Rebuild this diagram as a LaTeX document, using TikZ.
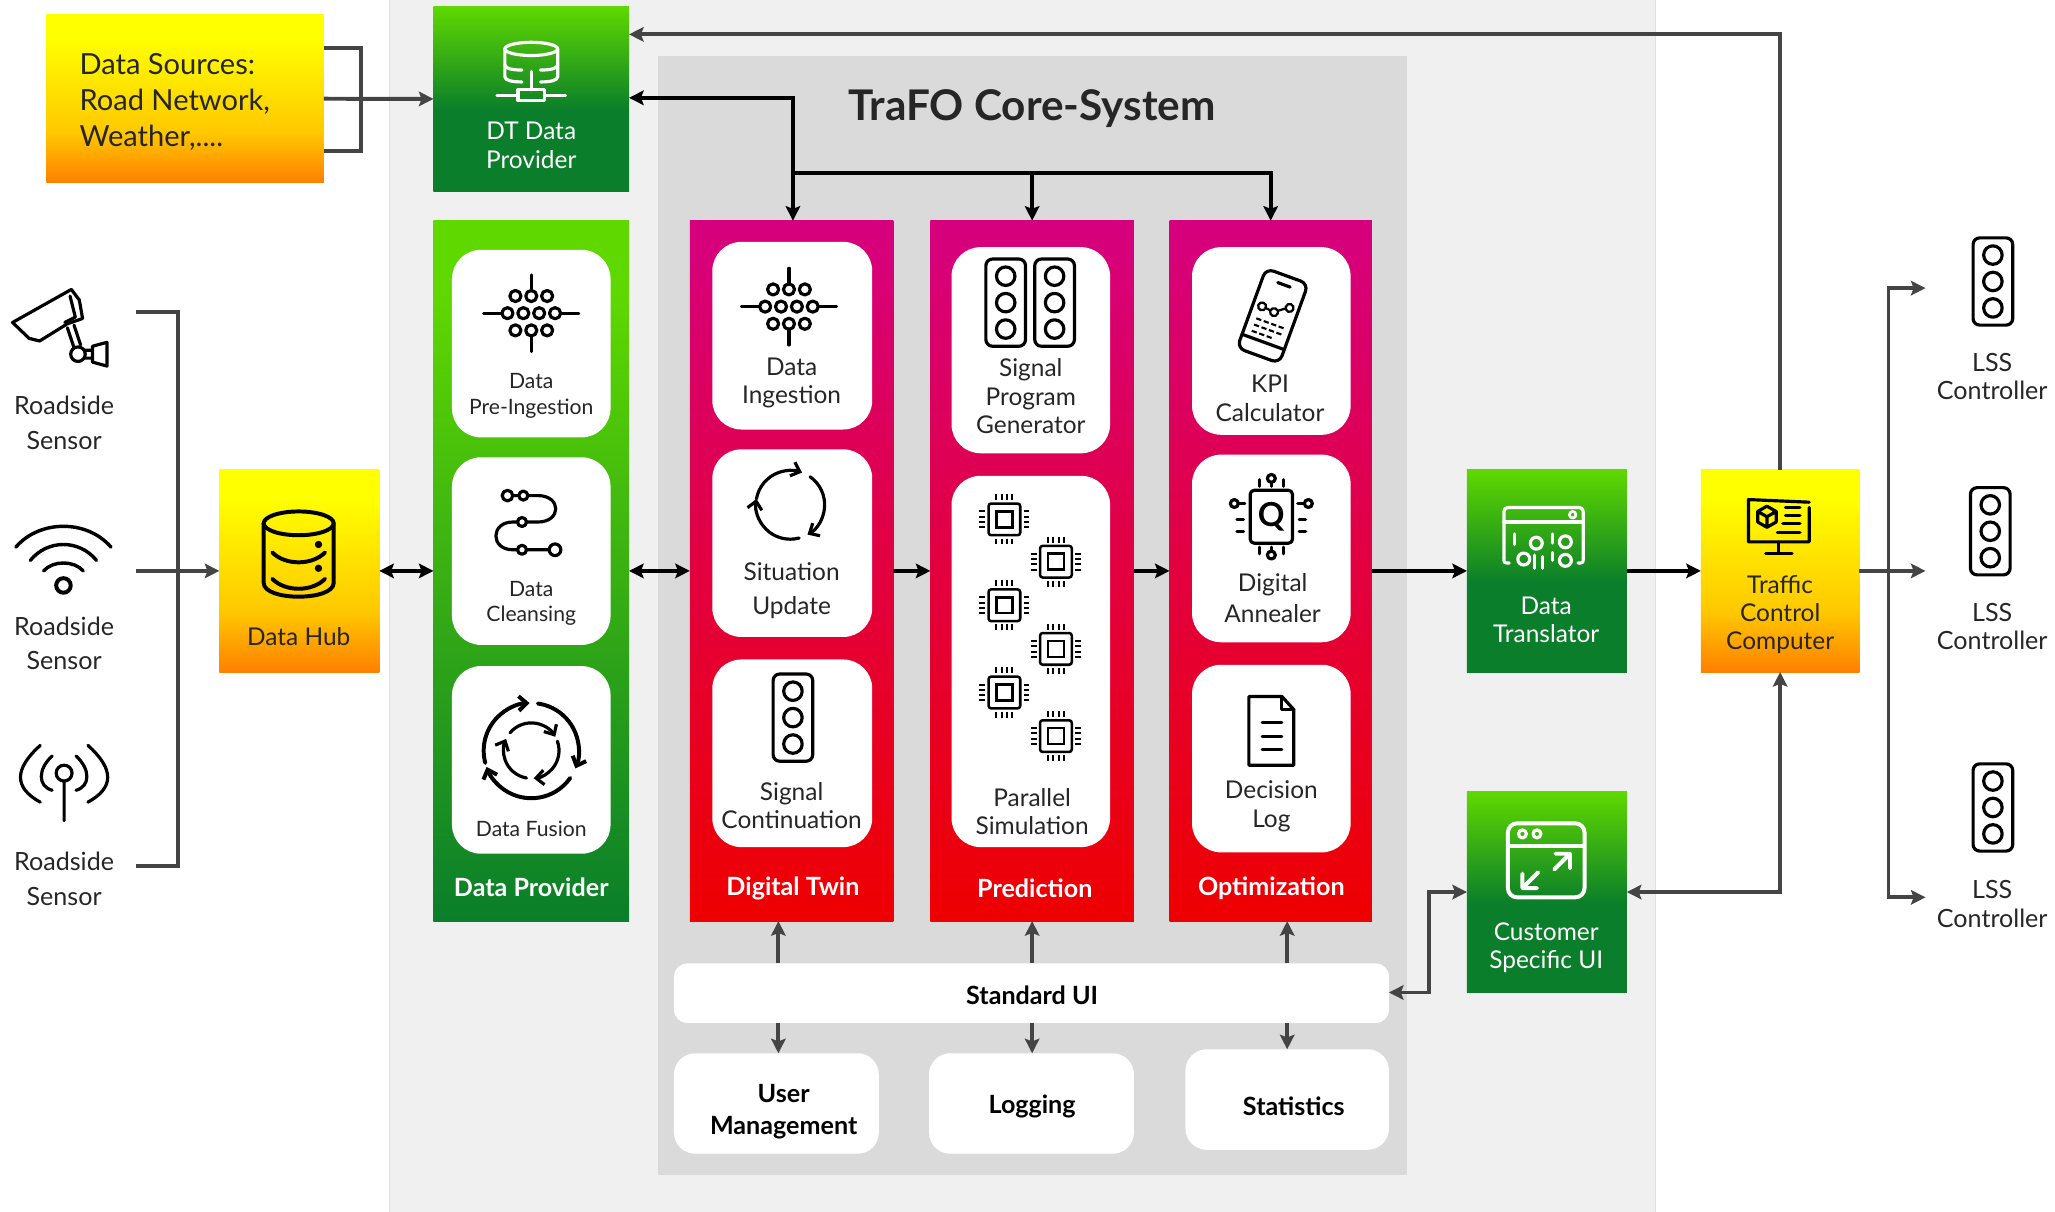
\documentclass[tikz,border=0pt]{standalone}
\usepackage{fontspec}
\setmainfont{Lato}
\usetikzlibrary{arrows,arrows.meta,calc,positioning}
\definecolor{bandgrey}{HTML}{F0F0F0}
\definecolor{coregrey}{HTML}{DADADA}
\definecolor{linkgrey}{HTML}{444444}
\definecolor{gntop}{HTML}{5FD800}
\definecolor{gnlow}{HTML}{0A7E2A}
\definecolor{pktop}{HTML}{D6007F}
\definecolor{pklow}{HTML}{EE0000}
\definecolor{yeltop}{HTML}{FFFF00}
\definecolor{yellow2}{HTML}{FFC800}
\definecolor{yellow3}{HTML}{FF8000}
\pgfdeclareverticalshading{greencol}{100bp}{color(0bp)=(gnlow); color(25bp)=(gnlow); color(70bp)=(gntop); color(100bp)=(gntop)}
\pgfdeclareverticalshading{greenbox}{100bp}{color(0bp)=(gnlow); color(47bp)=(gnlow); color(75bp)=(gntop); color(100bp)=(gntop)}
\pgfdeclareverticalshading{pinkcol}{100bp}{color(0bp)=(pklow); color(25bp)=(pklow); color(75bp)=(pktop); color(100bp)=(pktop)}
\pgfdeclareverticalshading{yellowbox}{100bp}{color(0bp)=(yellow3); color(25bp)=(yellow3); color(40bp)=(yellow2); color(68bp)=(yeltop); color(100bp)=(yeltop)}
\tikzset{
  block/.style={inner sep=0pt,outer sep=0pt,shading angle=0},
  gcol/.style={block,shading=greencol},
  gbox/.style={block,shading=greenbox},
  pcol/.style={block,shading=pinkcol},
  ybox/.style={block,shading=yellowbox},
  card/.style={fill=white,rounded corners=22pt,inner sep=0pt,outer sep=0pt},
  panel/.style={fill=white,rounded corners=10pt,inner sep=0pt,outer sep=0pt},
  txt/.style={align=center,inner sep=0pt,text=black!85,font=\fontsize{18.5}{21.5}\selectfont},
  small/.style={txt,font=\fontsize{16}{19.5}\selectfont},
  wide/.style={txt,font=\fontsize{18.5}{26}\selectfont},
  title/.style={align=center,inner sep=0pt,text=white,font=\fontsize{19}{21}\selectfont\bfseries},
  wtxt/.style={align=center,inner sep=0pt,text=white,font=\fontsize{18.5}{21.5}\selectfont},
  btxt/.style={align=center,inner sep=0pt,text=black,font=\fontsize{19}{24}\selectfont\bfseries},
  link/.style={draw=linkgrey,line width=3pt},
  flow/.style={draw=black,line width=3.2pt},
  barb/.style={>={Straight Barb[length=6pt,width=11pt]}},
  ic/.style={line width=2.4pt,line cap=round,line join=round},
  pics/lightpole/.style={code={
    \draw[ic,rounded corners=5pt] (-15,-33) rectangle (15,33);
    \foreach \ly in {-20,0,20} \draw[ic] (0,\ly) circle[radius=7pt];
  }},
  pics/grid/.style={code={
    \foreach \gx in {-12,0,12} {\draw[ic] (\gx,-13) circle[radius=4.2pt]; \draw[ic] (\gx,13) circle[radius=4.2pt];}
    \foreach \gx in {-18,-6,6,18} \draw[ic] (\gx,0) circle[radius=4.2pt];
    \draw[ic] (-36,0) -- (-22.5,0) (22.5,0) -- (36,0) (0,-29) -- (0,-17) (0,17) -- (0,29);
  }},
  pics/chip/.style={code={
    \draw[line width=1.9pt,rounded corners=2pt] (-12,-12) rectangle (12,12);
    \draw[line width=1.9pt] (-6,-6) rectangle (6,6);
    \foreach \p in {-6,-2,2,6} \draw[line width=1.5pt] (\p,-19) -- (\p,-14.5) (\p,14.5) -- (\p,19) (-19,\p) -- (-14.5,\p) (14.5,\p) -- (19,\p);
  }},
  pics/qchip/.style={code={
    \draw[ic,rounded corners=3pt] (-16,-20) rectangle (16,20);
    \node[font=\fontsize{25}{25}\selectfont\bfseries,inner sep=0pt] (qmark) at (0,0) {Q};
    \draw[ic] (0,-23) -- (0,-26) (-9,-23) -- (-9,-28) (9,-23) -- (9,-28) (0,23) -- (0,26) (-9,23) -- (-9,28) (9,23) -- (9,28);
    \draw[ic] (0,-29) circle[radius=3pt] (0,29) circle[radius=3pt] (-28,-10) circle[radius=3pt] (28,-10) circle[radius=3pt];
    \draw[ic] (-25,-10) -- (-20,-10) (20,-10) -- (25,-10) (-26,2) -- (-21,2) (21,2) -- (26,2) (-26,11) -- (-21,11) (21,11) -- (26,11);
  }},
  pics/cycle/.style={code={
    \draw[ic,barb,->] (170:26pt) arc[start angle=170,end angle=70,radius=26pt];
    \draw[ic,barb,->] (55:26pt) arc[start angle=55,end angle=-60,radius=26pt];
    \draw[ic,barb,->] (-75:26pt) arc[start angle=-75,end angle=-190,radius=26pt];
  }},
  pics/fusion/.style={code={
    \draw[line width=3pt,line cap=round,barb,->] (195:36pt) arc[start angle=195,end angle=92,radius=36pt];
    \draw[line width=3pt,line cap=round,barb,->] (82:36pt) arc[start angle=82,end angle=-22,radius=36pt];
    \draw[line width=3pt,line cap=round,barb,->] (-35:36pt) arc[start angle=-35,end angle=-160,radius=36pt];
    \draw[ic,barb,->] (140:21pt) arc[start angle=140,end angle=30,radius=21pt];
    \draw[ic,barb,->] (20:21pt) arc[start angle=20,end angle=-85,radius=21pt];
    \draw[ic,barb,->] (-100:21pt) arc[start angle=-100,end angle=-205,radius=21pt];
  }},
  pics/route/.style={code={
    \draw[ic] (-17,-23) -- (6,-23) .. controls (24,-23) and (24,-3) .. (6,-3) -- (-13,-3) .. controls (-30,-3) and (-30,18) .. (-13,18) -- (14,18);
    \fill[white] (-17,-23) circle[radius=4pt] (-5,-23) circle[radius=3.4pt] (-6,-3) circle[radius=3.4pt] (-6,18) circle[radius=3.4pt] (19,18) circle[radius=4.4pt];
    \draw[ic] (-17,-23) circle[radius=4pt] (-5,-23) circle[radius=3.4pt] (-6,-3) circle[radius=3.4pt] (-6,18) circle[radius=3.4pt] (19,18) circle[radius=4.4pt];
  }},
  pics/phone/.style={code={
    \draw[ic,rounded corners=6pt] (-17,-32) rectangle (17,32);
    \draw[ic] (-17,21) -- (17,21) (-5,-25) -- (5,-25);
    \draw[ic,line width=1.7pt] (-9,-4) -- (0,-3) -- (9,-10);
    \foreach \mx/\my in {-10/-4,0/-3,10/-10} \filldraw[fill=white,line width=1.7pt] (\mx,\my) circle[radius=3pt];
    \draw[line width=1.6pt,dash pattern=on 4pt off 2pt] (-11,6) -- (11,6) (-11,11) -- (11,11) (-11,16) -- (6,16);
  }},
  pics/docicon/.style={code={
    \draw[ic] (8,-26) -- (-17,-26) -- (-17,26) -- (17,26) -- (17,-16) -- cycle;
    \draw[ic] (8,-26) -- (8,-16) -- (17,-16);
    \draw[ic] (-7,-6) -- (8,-6) (-7,4) -- (8,4) (-7,14) -- (8,14);
  }},
  pics/bigdb/.style={code={
    \draw[line width=3pt,line cap=round] (0,-25) ellipse[x radius=26.5pt,y radius=9pt];
    \draw[line width=3pt,line cap=round] (-26.5,-25) -- (-26.5,20) .. controls (-26.5,34) and (26.5,34) .. (26.5,20) -- (26.5,-25);
    \draw[line width=3pt,line cap=round] (-20,-3) .. controls (-10,7) and (10,7) .. (20,-3) (-20,17) .. controls (-10,27) and (10,27) .. (20,17);
    \fill (15,-9) circle[radius=2.8pt] (15,9) circle[radius=2.8pt];
  }},
  pics/netdb/.style={code={
    \draw[ic] (0,-17) ellipse[x radius=20pt,y radius=5pt];
    \draw[ic] (-20,-17) -- (-20,4) .. controls (-20,7) and (-14,8) .. (-7,8) (20,-17) -- (20,4) .. controls (20,7) and (14,8) .. (7,8);
    \draw[ic] (-20,-5) .. controls (-20,-2) and (-14,-1) .. (-7,-1) (20,-5) .. controls (20,-2) and (14,-1) .. (7,-1);
    \draw[ic] (0,0) -- (0,14) (-10,14) rectangle (10,22) (-26,18) -- (-10,18) (10,18) -- (26,18);
  }},
  pics/binwin/.style={code={
    \draw[ic,rounded corners=3pt] (-30,13) -- (-30,-25) -- (30,-25) -- (30,13);
    \draw[ic] (-30,-14) -- (30,-14);
    \draw[ic] (-30,13) .. controls (-30,17) .. (-26,17) (30,13) .. controls (30,17) .. (26,17);
    \draw[ic,line width=2pt] (22,-19.5) circle[radius=2.5pt];
    \draw[ic] (-5.5,2) circle[radius=4.5pt] (16.5,1) circle[radius=4.5pt] (-15,14) circle[radius=4.5pt] (16.5,15) circle[radius=4.5pt];
    \draw[ic] (-22,-5) -- (-22,3) (6.5,-5) -- (6.5,2) (-7,11) -- (-7,21) (-1,12) -- (-1,21) (6.5,9) -- (6.5,15);
  }},
  pics/monitor/.style={code={
    \draw[ic] (24,-18) -- (-22,-20) -- (-22,12) -- (24,12) -- (24,-14);
    \draw[ic] (1,12) -- (1,20) (-9,21) -- (11,21);
    \draw[ic] (-8,-15) -- (-15,-11) -- (-15,-3) -- (-8,1) -- (-1,-3) -- (-1,-11) -- cycle (-15,-11) -- (-8,-7) -- (-1,-11) (-8,-7) -- (-8,1);
    \draw[ic] (6,-14) -- (17,-14) (6,-8) -- (17,-8) (4,-2) -- (17,-2) (0,5) -- (17,5);
  }},
  pics/uiwin/.style={code={
    \draw[line width=3pt,rounded corners=7pt] (-29,-28) rectangle (29,28);
    \draw[line width=3pt] (-29,-11) -- (29,-11);
    \draw[ic] (-18,-20) circle[radius=3pt] (-7,-20) circle[radius=3pt];
    \draw[line width=3pt,line cap=round,line join=round] (6,7) -- (18,-5) (7,-5) -- (18,-5) -- (18,6) (-6,9) -- (-18,21) (-7,21) -- (-18,21) -- (-18,10);
  }},
  pics/camera/.style={code={
    \draw[ic] (-37.5,-6) -- (7,-31) -- (13,-23) -- (15.5,-9) -- (4,-5) -- (-17,8) -- (-25,6) -- cycle;
    \draw[ic] (6,-26) -- (10,-10) -- (2,-6);
    \draw[ic] (4,-2) -- (9,13) (9,-4) -- (14,11);
    \draw[ic] (12,18) circle[radius=5.5pt];
    \draw[ic] (17,15) -- (23,15) (17,21) -- (23,21) (23,12) -- (34,9) -- (34,27) -- (23,24) -- cycle;
  }},
  pics/wifi/.style={code={
    \draw[line width=2.6pt,line cap=round] (-36,-11) .. controls (-18,-32) and (18,-32) .. (36,-11);
    \draw[line width=2.6pt,line cap=round] (-25,-1) .. controls (-12,-17) and (12,-17) .. (25,-1);
    \draw[line width=2.6pt,line cap=round] (-15,7) .. controls (-8,-1) and (8,-1) .. (15,7);
    \draw[line width=3pt] (0,18) circle[radius=5.5pt];
  }},
  pics/antenna/.style={code={
    \draw[ic] (0,-7) circle[radius=6pt] (0,-1) -- (0,29);
    \draw[ic] (-9,-20) .. controls (-20,-10) and (-20,3) .. (-9,6) (9,-20) .. controls (20,-10) and (20,3) .. (9,6);
    \draw[ic] (-18,-28) .. controls (-38,-10) and (-38,4) .. (-18,15) (18,-28) .. controls (38,-10) and (38,4) .. (18,15);
  }},
}
\begin{document}
\begin{tikzpicture}[x=1pt,y=-1pt,>={Stealth[length=11pt,width=11pt,inset=2pt]}]
\useasboundingbox (0,0) rectangle (1555,916.4);
% backgrounds
\node[fill=bandgrey,draw=black!12,line width=.7pt,inner sep=0pt,minimum width=958pt,minimum height=930pt] (band) at (774,458) {};
\node[fill=coregrey,inner sep=0pt,minimum width=567pt,minimum height=847pt] (core) at (781.5,465.5) {};
\node[font=\fontsize{32}{32}\selectfont\bfseries,text=black!85,inner sep=0pt] (coretitle) at (781,82) {TraFO Core-System};
% outer boxes
\node[ybox,minimum width=210pt,minimum height=127pt] (dsrc) at (140,74.5) {};
\node[ybox,minimum width=121pt,minimum height=153pt] (hub) at (226.5,432) {};
\node[ybox,minimum width=120pt,minimum height=153pt] (tcc) at (1347,432) {};
\node[gbox,minimum width=148pt,minimum height=140pt] (dtp) at (402,75) {};
\node[gbox,minimum width=121pt,minimum height=153pt] (trans) at (1170.5,432) {};
\node[gbox,minimum width=121pt,minimum height=152pt] (cust) at (1170.5,675) {};
% columns
\node[gcol,minimum width=148pt,minimum height=530pt] (prov) at (402,432) {};
\node[pcol,minimum width=154pt,minimum height=530pt] (twin) at (599,432) {};
\node[pcol,minimum width=154pt,minimum height=530pt] (pred) at (781,432) {};
\node[pcol,minimum width=153pt,minimum height=530pt] (opti) at (961.5,432) {};
% cards
\foreach \nm/\cy in {prova/260,provb/417,provc/575}
  \node[card,minimum width=120pt,minimum height=142pt] (\nm) at (402,\cy) {};
\foreach \nm/\cy in {twina/254,twinb/411,twinc/570}
  \node[card,minimum width=121pt,minimum height=142pt] (\nm) at (599.5,\cy) {};
\node[card,minimum width=120pt,minimum height=156pt] (preda) at (780,265) {};
\node[card,minimum width=120pt,minimum height=281pt] (predb) at (780,500.5) {};
\foreach \nm/\cy in {optia/258,optib/415,optic/574}
  \node[card,minimum width=120pt,minimum height=142pt] (\nm) at (962,\cy) {};
\node[panel,minimum width=541pt,minimum height=45pt] (ui) at (780.5,751.5) {};
\node[panel,rounded corners=16pt,minimum width=155pt,minimum height=76pt] (um) at (587.5,835) {};
\node[panel,rounded corners=16pt,minimum width=155pt,minimum height=76pt] (log) at (780.5,835) {};
\node[panel,rounded corners=16pt,minimum width=154pt,minimum height=76pt] (stat) at (974,832) {};
% labels
\node[txt,anchor=west,align=left,font=\fontsize{22}{27}\selectfont] (dsrct) at (60,77) {Data Sources:\\Road Network,\\Weather,....};
\node[wtxt] (dtpt) at (402,110) {DT Data\\Provider};
\node[small] (provat) at (402,299.5) {Data\\Pre-Ingestion};
\node[small] (provbt) at (402,456.5) {Data\\Cleansing};
\node[small] (provct) at (402,627) {Data Fusion};
\node[title] (provt) at (402,671) {Data Provider};
\node[txt] (twinat) at (599,290) {Data\\Ingestion};
\node[wide] (twinbt) at (599,447) {Situation\\Update};
\node[txt] (twinct) at (599,609.5) {Signal\\Continuation};
\node[title] (twint) at (600,672) {Digital Twin};
\node[txt] (predat) at (780,300) {Signal\\Program\\Generator};
\node[txt] (predbt) at (781,614) {Parallel\\Simulation};
\node[title] (predt) at (783,672) {Prediction};
\node[txt] (optiat) at (961,301.5) {KPI\\Calculator};
\node[txt,font=\fontsize{18.5}{23}\selectfont] (optibt) at (963,452.5) {Digital\\Annealer};
\node[txt] (optict) at (962,610) {Decision\\Log};
\node[title] (optit) at (962,672) {Optimization};
\node[btxt] (uit) at (781,753) {Standard UI};
\node[btxt] (umt) at (593,841) {User\\Management};
\node[btxt] (logt) at (781,837) {Logging};
\node[btxt] (statt) at (979,837) {Statistics};
\node[txt] (hubt) at (226,482) {Data Hub};
\node[wtxt] (transt) at (1170,469) {Data\\Translator};
\node[txt] (tcct) at (1347,465) {Traffic\\Control\\Computer};
\node[wtxt] (custt) at (1170,717) {Customer\\Specific UI};
\foreach \i/\ty in {1/320,2/487,3/665}
  \node[txt,font=\fontsize{19}{26}\selectfont] (sens\i) at (48.5,\ty) {Roadside\\Sensor};
\foreach \i/\ty in {1/285,2/474,3/684}
  \node[txt,font=\fontsize{19}{21.5}\selectfont] (lss\i) at (1507.5,\ty) {LSS\\Controller};
% icons
\pic at (47,250) {camera};
\pic at (48,425) {wifi};
\pic at (48.5,592) {antenna};
\pic at (226,421) {bigdb};
\pic[white] at (402,54) {netdb};
\pic at (402,237) {grid};
\pic at (401,398) {route};
\pic at (402,568) {fusion};
\pic at (597,232) {grid};
\pic at (598,382) {cycle};
\pic at (600,543) {lightpole};
\pic at (761,229) {lightpole};
\pic at (798,229) {lightpole};
\foreach \cx/\cy in {760/393,799/425,760/458,799/491,760/524,799/557}
  \pic at (\cx,\cy) {chip};
\pic[rotate=-20] at (963,239) {phone};
\pic at (962,391) {qchip};
\pic at (962,553) {docicon};
\pic[white] at (1168,409) {binwin};
\pic at (1345,398) {monitor};
\pic[white] at (1170,651) {uiwin};
\pic at (1508,213) {lightpole};
\pic at (1506,402) {lightpole};
\pic at (1508,611) {lightpole};
% connectors
\coordinate (dsup) at (245,36);
\coordinate (dslow) at (245,114);
\coordinate (dsbar) at (273,75);
\draw[link] (dsup) -- (dsup -| dsbar) -- (dslow -| dsbar) -- (dslow);
\draw[link,->] (dsrc) -- (dtp);
\coordinate (tcctop) at (476,26);
\draw[link,->] (tcc) -- (tcc |- tcctop) -- (tcctop);
\coordinate (dtin) at (476,74);
\coordinate (bus) at (600,131);
\draw[flow,<->] (dtin) -- (dtin -| bus) -- (twin.north -| bus);
\draw[flow,->] (bus) -- (bus -| opti.north) -- (opti.north);
\draw[flow,->] (pred.north |- bus) -- (pred.north);
\coordinate (sup) at (103,236);
\coordinate (smid) at (103,432);
\coordinate (slow) at (103,655);
\coordinate (sbar) at (135,432);
\draw[link] (sup) -- (sup -| sbar) -- (slow -| sbar) -- (slow);
\draw[link,->] (smid) -- (hub);
\draw[flow,<->] (hub) -- (prov);
\draw[flow,<->] (prov) -- (twin);
\draw[flow,->] (twin) -- (pred);
\draw[flow,->] (pred) -- (opti);
\draw[flow,->] (opti) -- (trans);
\draw[flow,->] (trans) -- (tcc);
\coordinate (lssa) at (1457,218);
\coordinate (lssb) at (1457,432);
\coordinate (lssc) at (1457,679);
\coordinate (lssbar) at (1429,432);
\draw[link,->] (tcc) -- (lssb);
\draw[link,->] (lssbar |- lssa) -- (lssa);
\draw[link,->] (lssbar |- lssc) -- (lssc);
\draw[link,line cap=rect] (lssbar |- lssa) -- (lssbar |- lssc);
\draw[link,<->] (cust) -- (cust -| tcc) -- (tcc);
\coordinate (uiend) at (1051,751);
\coordinate (uibar) at (1081,675);
\draw[link,<->] (uiend) -- (uiend -| uibar) -- (uibar) -- (cust);
\foreach \a/\b/\c in {um/twin/589,log/pred/781,stat/opti/974} {
  \coordinate (tap) at (\c,0);
  \draw[link,->] (ui.north -| tap) -- (\b.south -| tap);
  \draw[link,->] (ui.south -| tap) -- (\a.north -| tap);
}
\end{tikzpicture}
\end{document}
